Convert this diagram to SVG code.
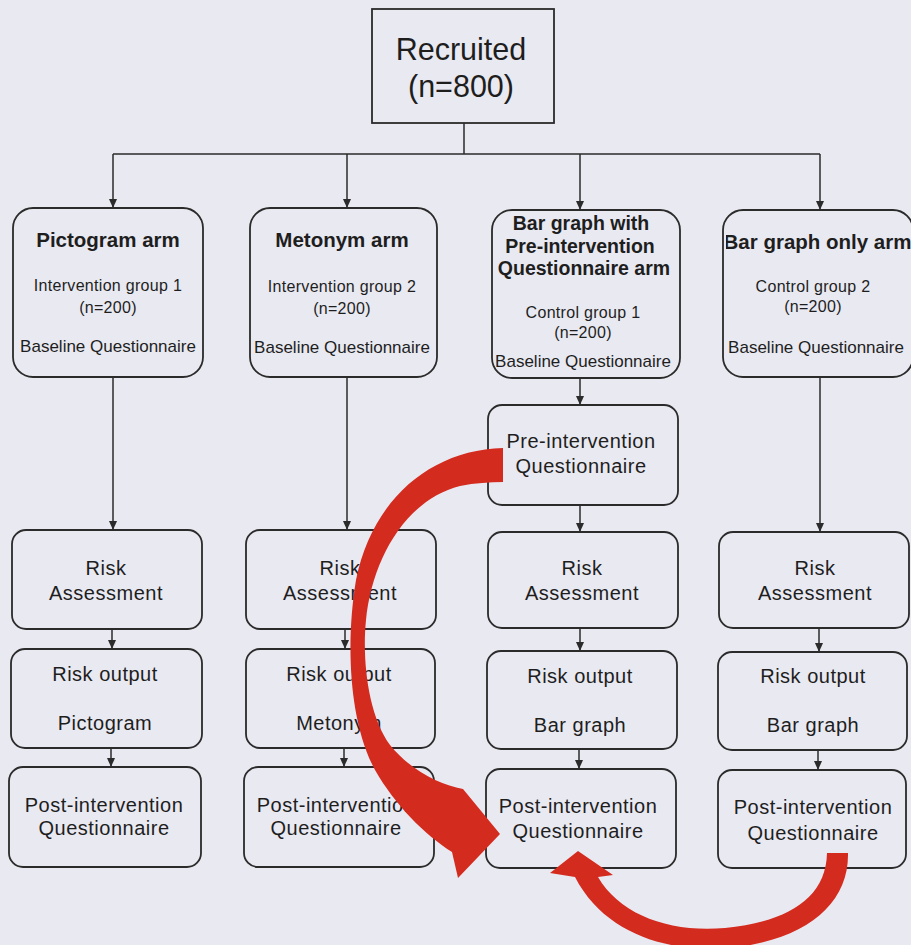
<svg xmlns="http://www.w3.org/2000/svg" width="911" height="945" viewBox="0 0 911 945">
  <defs>
    <style>
      .bg { fill: #e9e9f1; }
      .box { fill: none; stroke: #2b2b2b; stroke-width: 1.8; }
      .ln { fill: none; stroke: #2b2b2b; stroke-width: 1.5; }
      .red { fill: #d42b1f; stroke: none; }
      text { font-family: "Liberation Sans", Arial, sans-serif; fill: #1e1e1e; text-anchor: middle; }
      .big { font-size: 30.5px; }
      .ti { font-size: 20.5px; font-weight: bold; }
      .ti3 { font-size: 19.5px; font-weight: bold; }
      .ts { font-size: 16px; letter-spacing: 0.3px; }
      .tb { font-size: 17px; }
      .tm { font-size: 20px; letter-spacing: 0.5px; }
    </style>
    <marker id="ah" markerUnits="userSpaceOnUse" markerWidth="10" markerHeight="10" refX="9" refY="5" orient="auto">
      <path d="M0,1 L9,5 L0,9 Z" fill="#2b2b2b"/>
    </marker>
    <clipPath id="clip4">
      <rect x="726" y="210" width="200" height="170"/>
    </clipPath>
  </defs>

  <rect class="bg" x="0" y="0" width="911" height="945"/>

  <!-- connectors -->
  <g id="connectors">
    <path class="ln" d="M464 123 V154 M113 154 H820"/>
    <path class="ln" d="M113 154 V208" marker-end="url(#ah)"/>
    <path class="ln" d="M347 154 V208" marker-end="url(#ah)"/>
    <path class="ln" d="M580 154 V210" marker-end="url(#ah)"/>
    <path class="ln" d="M820 154 V210" marker-end="url(#ah)"/>

    <path class="ln" d="M113 377 V530" marker-end="url(#ah)"/>
    <path class="ln" d="M347 377 V530" marker-end="url(#ah)"/>
    <path class="ln" d="M580 378 V405" marker-end="url(#ah)"/>
    <path class="ln" d="M580 505 V532" marker-end="url(#ah)"/>
    <path class="ln" d="M820 377 V532" marker-end="url(#ah)"/>

    <path class="ln" d="M112 629 V649" marker-end="url(#ah)"/>
    <path class="ln" d="M345 629 V649" marker-end="url(#ah)"/>
    <path class="ln" d="M580 628 V651" marker-end="url(#ah)"/>
    <path class="ln" d="M819 628 V652" marker-end="url(#ah)"/>

    <path class="ln" d="M111 748 V767" marker-end="url(#ah)"/>
    <path class="ln" d="M344 748 V767" marker-end="url(#ah)"/>
    <path class="ln" d="M579 749 V769" marker-end="url(#ah)"/>
    <path class="ln" d="M818 750 V770" marker-end="url(#ah)"/>
  </g>

  <!-- top node -->
  <g id="recruited">
    <rect class="box" x="372" y="9" width="182" height="114"/>
    <text class="big" x="461" y="60">Recruited</text>
    <text class="big" x="461" y="97">(n=800)</text>
  </g>

  <!-- study arms -->
  <g id="arm-pictogram">
    <rect class="box" x="13" y="208" width="190" height="169" rx="20"/>
    <text class="ti" x="108" y="247">Pictogram arm</text>
    <text class="ts" x="108" y="291">Intervention group 1</text>
    <text class="ts" x="108" y="313">(n=200)</text>
    <text class="tb" x="108" y="352">Baseline Questionnaire</text>
  </g>
  <g id="arm-metonym">
    <rect class="box" x="250" y="208" width="187" height="169" rx="20"/>
    <text class="ti" x="342" y="247">Metonym arm</text>
    <text class="ts" x="342" y="292">Intervention group 2</text>
    <text class="ts" x="342" y="314">(n=200)</text>
    <text class="tb" x="342" y="353">Baseline Questionnaire</text>
  </g>
  <g id="arm-bargraph-pre">
    <rect class="box" x="492" y="210" width="188" height="168" rx="20"/>
    <text class="ti3" x="581" y="230">Bar graph with</text>
    <text class="ti3" x="580" y="253">Pre-intervention</text>
    <text class="ti3" x="584" y="275">Questionnaire arm</text>
    <text class="ts" x="583" y="318">Control group 1</text>
    <text class="ts" x="583" y="338">(n=200)</text>
    <text class="tb" x="583" y="367">Baseline Questionnaire</text>
  </g>
  <g id="arm-bargraph-only">
    <text class="ti" x="817.5" y="249" clip-path="url(#clip4)">Bar graph only arm</text>
    <rect class="box" x="723" y="210" width="190" height="167" rx="20"/>
    <text class="ts" x="813" y="292">Control group 2</text>
    <text class="ts" x="813" y="312">(n=200)</text>
    <text class="tb" x="816" y="353">Baseline Questionnaire</text>
  </g>

  <g id="pre-questionnaire">
    <rect class="box" x="488" y="405" width="190" height="100" rx="14"/>
    <text class="tm" x="581" y="448">Pre-intervention</text>
    <text class="tm" x="581" y="473">Questionnaire</text>
  </g>

  <!-- risk assessment -->
  <g id="risk-1">
    <rect class="box" x="12" y="530" width="190" height="99" rx="14"/>
    <text class="tm" x="106" y="575">Risk</text>
    <text class="tm" x="106" y="600">Assessment</text>
  </g>
  <g id="risk-2">
    <rect class="box" x="246" y="530" width="190" height="99" rx="14"/>
    <text class="tm" x="340" y="575">Risk</text>
    <text class="tm" x="340" y="600">Assessment</text>
  </g>
  <g id="risk-3">
    <rect class="box" x="488" y="532" width="190" height="96" rx="14"/>
    <text class="tm" x="582" y="575">Risk</text>
    <text class="tm" x="582" y="600">Assessment</text>
  </g>
  <g id="risk-4">
    <rect class="box" x="719" y="532" width="190" height="96" rx="14"/>
    <text class="tm" x="815" y="575">Risk</text>
    <text class="tm" x="815" y="600">Assessment</text>
  </g>

  <!-- risk output -->
  <g id="output-1">
    <rect class="box" x="11" y="649" width="191" height="99" rx="14"/>
    <text class="tm" x="105" y="681">Risk output</text>
    <text class="tm" x="105" y="730">Pictogram</text>
  </g>
  <g id="output-2">
    <rect class="box" x="246" y="649" width="189" height="99" rx="14"/>
    <text class="tm" x="339" y="681">Risk output</text>
    <text class="tm" x="339" y="730">Metonym</text>
  </g>
  <g id="output-3">
    <rect class="box" x="487" y="651" width="190" height="98" rx="14"/>
    <text class="tm" x="580" y="683">Risk output</text>
    <text class="tm" x="580" y="732">Bar graph</text>
  </g>
  <g id="output-4">
    <rect class="box" x="718" y="652" width="189" height="98" rx="14"/>
    <text class="tm" x="813" y="683">Risk output</text>
    <text class="tm" x="813" y="732">Bar graph</text>
  </g>

  <!-- post-intervention -->
  <g id="post-1">
    <rect class="box" x="9" y="767" width="192" height="100" rx="14"/>
    <text class="tm" x="104" y="812">Post-intervention</text>
    <text class="tm" x="104" y="835">Questionnaire</text>
  </g>
  <g id="post-2">
    <rect class="box" x="244" y="767" width="190" height="100" rx="14"/>
    <text class="tm" x="336" y="812">Post-intervention</text>
    <text class="tm" x="336" y="835">Questionnaire</text>
  </g>
  <g id="post-3">
    <rect class="box" x="486" y="769" width="190" height="99" rx="14"/>
    <text class="tm" x="578" y="813">Post-intervention</text>
    <text class="tm" x="578" y="838">Questionnaire</text>
  </g>
  <g id="post-4">
    <rect class="box" x="718" y="770" width="188" height="98" rx="14"/>
    <text class="tm" x="813" y="814">Post-intervention</text>
    <text class="tm" x="813" y="840">Questionnaire</text>
  </g>

  <!-- red highlight arrows -->
  <g id="highlight-arrows">
    <path class="red" d="M503 448 C430 450 372 500 356 580 C346 640 348 720 375 770 C395 805 425 835 452 852 L458 878 L500 834 L463 789 C440 785 410 770 390 745 C368 715 362 660 366 620 C372 560 405 500 460 486 C475 483 490 482 503 482 Z"/>
    <path class="red" d="M848 853 C849 905 805 940 730 948 C670 953 605 935 575 877 L550 873 L578 851 L613 875 L598 877 C620 915 670 933 725 928 C785 922 826 900 827 853 Z"/>
  </g>
</svg>
